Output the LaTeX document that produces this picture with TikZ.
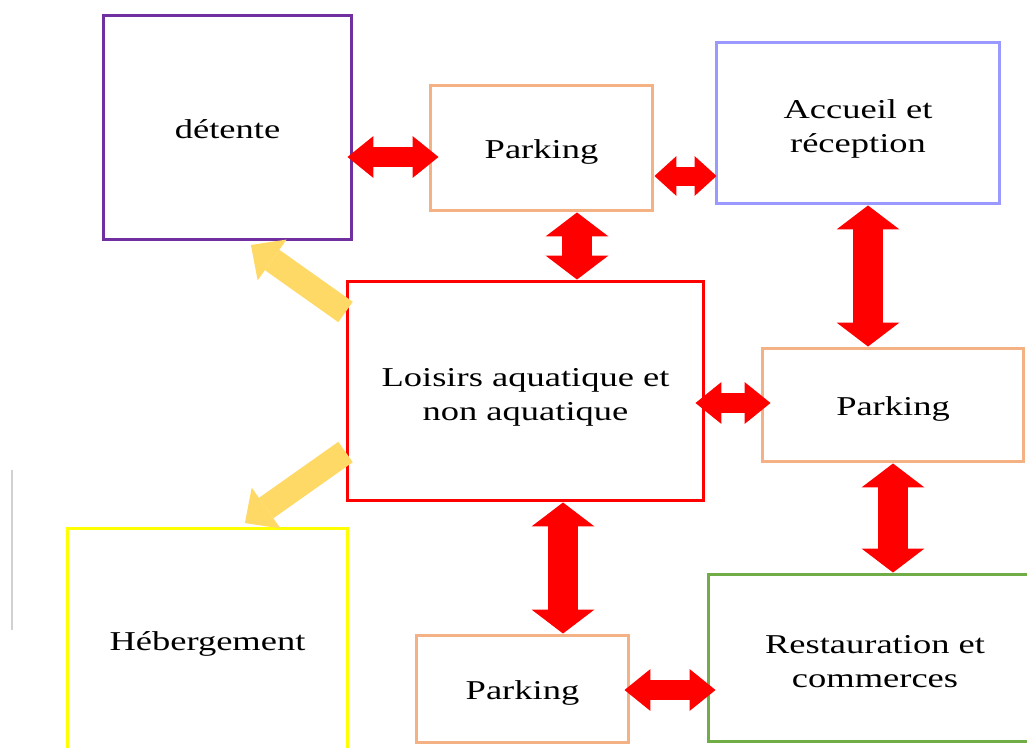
\documentclass[tikz,border=0pt]{standalone}
\usepackage{fontspec}
\setmainfont{Liberation Serif}[FakeStretch=1.34]
\usetikzlibrary{arrows.meta}

\definecolor{violetdet}{HTML}{7030A0}
\definecolor{orpark}{HTML}{F4B183}
\definecolor{bleuacc}{HTML}{9999FF}
\definecolor{vertrest}{HTML}{70AD47}
\definecolor{jauneheb}{HTML}{FFFF00}
\definecolor{orfleche}{HTML}{FFD966}

\begin{document}
\begin{tikzpicture}[
  x=0.02cm, y=-0.02cm,
  box/.style={draw, line width=0.06cm, align=center, inner sep=0pt,
              font=\fontsize{15.5}{19.3}\selectfont, text height=0.42cm, text depth=0pt},
  boxtwo/.style={box, text height=1.18cm},
  bigbi/.style={draw=red, line width=0.6cm,
    {Triangle[width=1.26cm,length=0.48cm,line width=0pt]}-{Triangle[width=1.26cm,length=0.48cm,line width=0pt]}},
  smallbi/.style={draw=red, line width=0.4cm,
    {Triangle[width=0.84cm,length=0.52cm,line width=0pt]}-{Triangle[width=0.84cm,length=0.52cm,line width=0pt]}},
  tinybi/.style={draw=red, line width=0.38cm,
    {Triangle[width=0.8cm,length=0.44cm,line width=0pt]}-{Triangle[width=0.8cm,length=0.44cm,line width=0pt]}},
  goldarrow/.style={draw=orfleche, line width=0.5cm, shorten >=0.12cm,
    -{Triangle[width=1cm,length=0.52cm,line width=0pt]}}
]
  \clip (0,0) rectangle (1027,747);

  % Blocs
  \node[box, draw=violetdet, minimum width=4.98cm, minimum height=4.5cm] (detente) at (227.5,127.5) {détente};
  \node[box, draw=orpark, minimum width=4.46cm, minimum height=2.52cm] (parkA) at (541.5,148) {Parking};
  \node[boxtwo, draw=bleuacc, minimum width=5.68cm, minimum height=3.24cm] (accueil) at (858,123) {Accueil et\\réception};
  \node[boxtwo, draw=red, minimum width=7.14cm, minimum height=4.4cm] (loisirs) at (525.5,391) {Loisirs aquatique et\\non aquatique};
  \node[box, draw=orpark, minimum width=5.24cm, minimum height=2.28cm] (parkB) at (893,405) {Parking};
  \node[box, draw=jauneheb, minimum width=5.62cm, minimum height=4.48cm] (heberg) at (207.5,640) {Hébergement};
  \node[box, draw=orpark, minimum width=4.26cm, minimum height=2.14cm] (parkC) at (522.5,688.5) {Parking};
  \node[boxtwo, draw=vertrest, minimum width=6.68cm, minimum height=3.36cm] (resto) at (875,658) {Restauration et\\commerces};

  % Liaisons rouges
  \draw[smallbi, shorten <=-0.12cm, shorten >=-0.2cm] (detente.east |- 0,157) -- (parkA.west |- 0,157);
  \draw[tinybi, shorten >=-0.04cm] (parkA.east |- 0,176) -- (accueil.west |- 0,176);
  \draw[bigbi] (parkA.south -| 577,0) -- (loisirs.north -| 577,0);
  \draw[bigbi] (accueil.south -| 868,0) -- (parkB.north -| 868,0);
  \draw[smallbi, shorten <=-0.2cm, shorten >=-0.2cm] (loisirs.east |- 0,403) -- (parkB.west |- 0,403);
  \draw[bigbi] (parkB.south -| 893,0) -- (resto.north -| 893,0);
  \draw[bigbi] (loisirs.south -| 563,0) -- (parkC.north -| 563,0);
  \draw[smallbi, shorten <=-0.12cm, shorten >=-0.18cm] (parkC.east |- 0,690) -- (resto.west |- 0,690);

  % Fleches jaunes
  \draw[goldarrow] (loisirs.west |- 0,312) -- (detente.south -| 246,0);
  \draw[goldarrow] (loisirs.west |- 0,452) -- (heberg.north -| 240,0);

  % Trait gris
  \draw[black!18, line width=0.05cm] (12,470) -- (12,630);
\end{tikzpicture}
\end{document}
